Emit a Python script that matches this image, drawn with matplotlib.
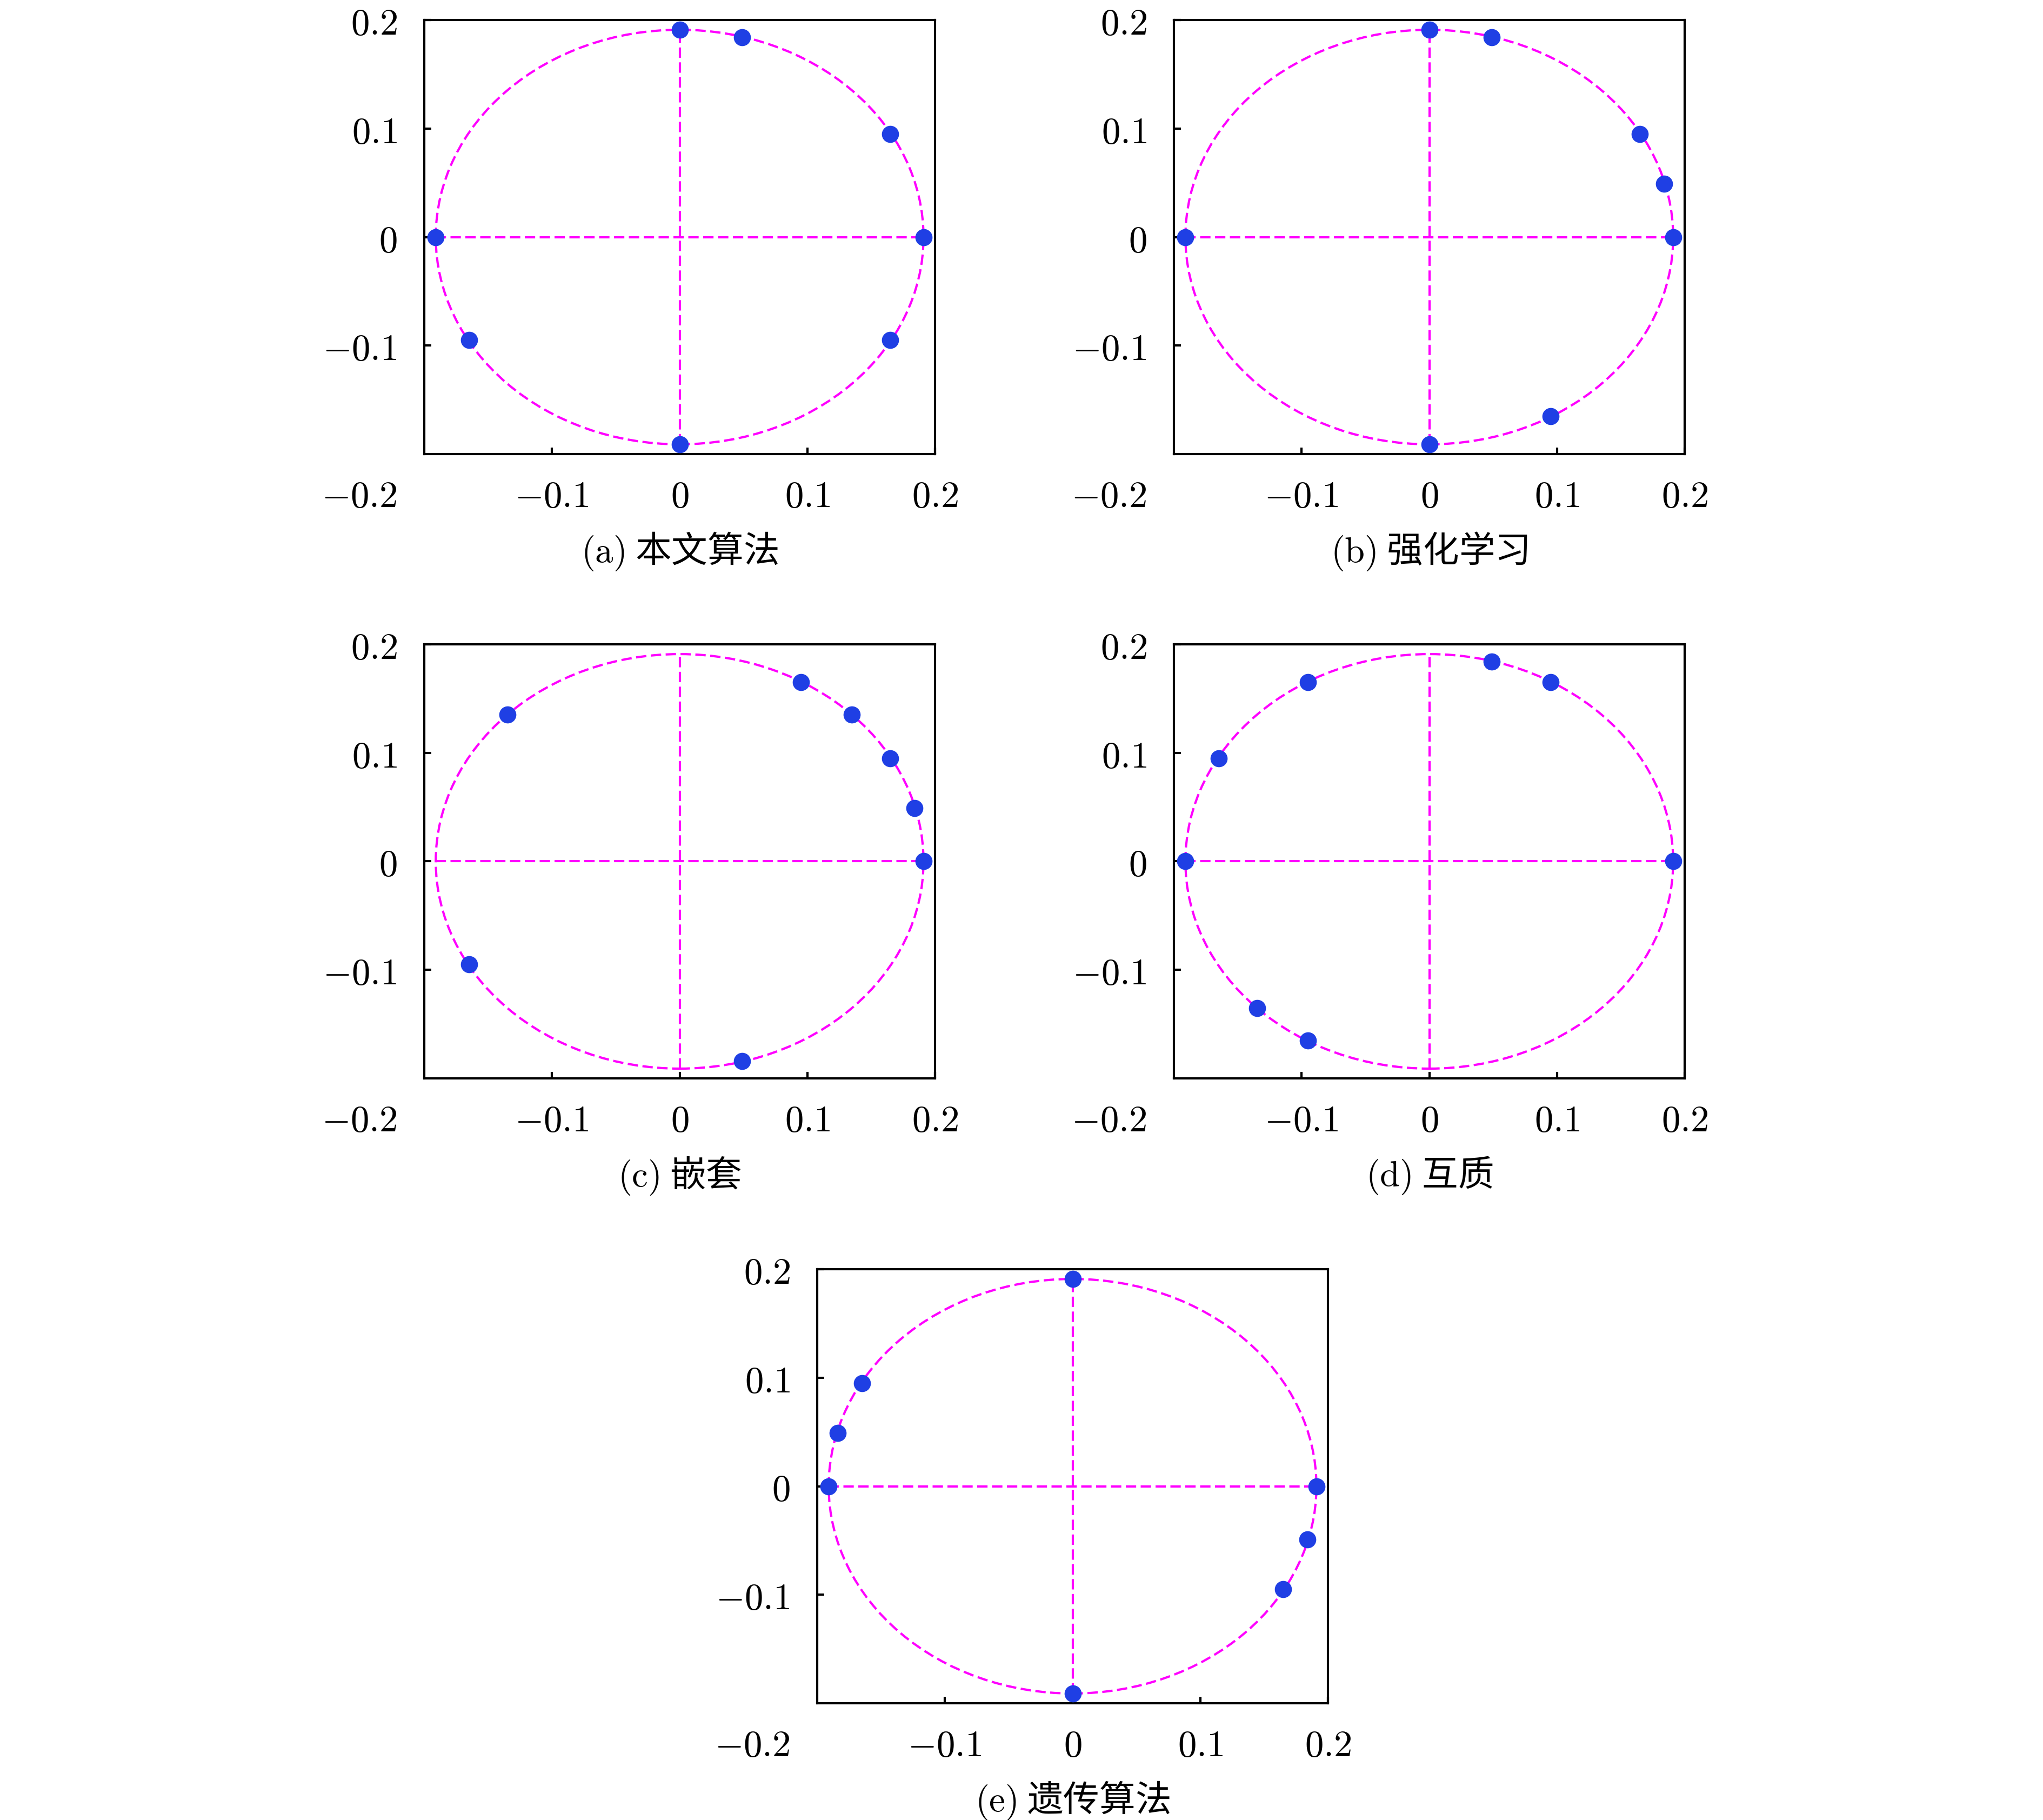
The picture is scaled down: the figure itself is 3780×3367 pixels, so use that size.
import matplotlib
matplotlib.use("Agg")
import matplotlib.pyplot as plt
from matplotlib.patches import Circle

plt.rcParams['mathtext.fontset'] = 'cm'
plt.rcParams['font.family'] = ['Noto Sans CJK SC', 'DejaVu Sans']

# ---- data ----
radius = 0.191
captions = ["(a)", "(b)", "(c)", "(d)", "(e)"]
caption_names = ["本文算法", "强化学习", "嵌套", "互质", "遗传算法"]

a_x = [0.0, 0.049, 0.165, 0.191, 0.165, 0.0, -0.165, -0.191]
a_y = [0.191, 0.184, 0.095, 0.0, -0.095, -0.191, -0.095, 0.0]

b_x = [0.0, 0.049, 0.165, 0.184, 0.191, 0.095, 0.0, -0.191]
b_y = [0.191, 0.184, 0.095, 0.049, 0.0, -0.165, -0.191, 0.0]

c_x = [-0.135, 0.095, 0.135, 0.165, 0.184, 0.191, -0.165, 0.049]
c_y = [0.135, 0.165, 0.135, 0.095, 0.049, 0.0, -0.095, -0.184]

d_x = [0.049, 0.095, -0.095, -0.165, -0.191, 0.191, -0.135, -0.095]
d_y = [0.184, 0.165, 0.165, 0.095, 0.0, 0.0, -0.135, -0.165]

e_x = [0.0, -0.165, -0.184, -0.191, 0.191, 0.184, 0.165, 0.0]
e_y = [0.191, 0.095, 0.049, 0.0, 0.0, -0.049, -0.095, -0.191]

xticks = [-0.1, 0.0, 0.1, 0.2]
xticklabels = ["$-0.1$", "$0$", "$0.1$", "$0.2$"]
yticks = [-0.1, 0.0, 0.1, 0.2]
yticklabels = ["$-0.1$", "$0$", "$0.1$", "$0.2$"]
corner_label = "$-0.2$"
axis_lim = [-0.2, 0.2]

series = [(a_x, a_y), (b_x, b_y), (c_x, c_y), (d_x, d_y), (e_x, e_y)]

# ---- layout ----
W, H = 3780, 3367
fig = plt.figure(figsize=(W / 300, H / 300), dpi=300)

ax_w = 945 / W
ax_h = 803 / H
positions = [
    (785 / W, 1 - 840 / H),
    (2172 / W, 1 - 840 / H),
    (785 / W, 1 - 1995 / H),
    (2172 / W, 1 - 1995 / H),
    (1512 / W, 1 - 3151 / H),
]

magenta = '#ff00ff'
blue = '#1f3fe4'
dash = (0, (4.6, 2.0))
fs = 16.5

for i, ((px, py), (xs, ys)) in enumerate(zip(positions, series)):
    ax = fig.add_axes([px, py, ax_w, ax_h])
    ax.set_xlim(axis_lim)
    ax.set_ylim(axis_lim)

    ax.add_patch(Circle((0, 0), radius, fill=False, edgecolor=magenta,
                        linewidth=1.0, linestyle=dash, zorder=2))
    ax.plot([-radius, radius], [0, 0], color=magenta, lw=1.0, linestyle=dash, zorder=2)
    ax.plot([0, 0], [-radius, radius], color=magenta, lw=1.0, linestyle=dash, zorder=2)
    ax.plot(xs, ys, linestyle='none', marker='o', markersize=7.6,
            color=blue, markeredgewidth=0, zorder=3)

    ax.set_xticks(xticks)
    ax.set_xticklabels(xticklabels)
    ax.set_yticks(yticks)
    ax.set_yticklabels(yticklabels)
    ax.tick_params(direction='in', length=3, width=1.0,
                   labelsize=fs, top=False, right=False)
    ax.tick_params(axis='x', pad=10.5)
    ax.tick_params(axis='y', pad=12)
    for s in ax.spines.values():
        s.set_linewidth(1.0)

    ax.annotate(corner_label, xy=(0, 0), xycoords='axes fraction',
                xytext=(-12, -10.5), textcoords='offset points',
                ha='right', va='top', fontsize=fs)

    ax.text(0.5, -0.224, f"$\\mathrm{{{captions[i]}}}$ {caption_names[i]}",
            transform=ax.transAxes, ha='center', va='center', fontsize=16,
            family=['Noto Sans CJK SC', 'DejaVu Sans'])

fig.savefig("out.png", dpi=300)
